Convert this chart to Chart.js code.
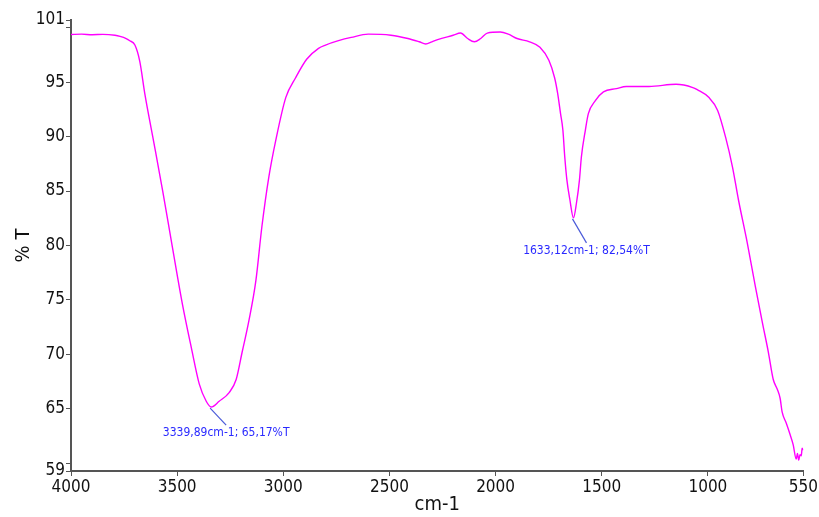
<!DOCTYPE html>
<html>
<head>
<meta charset="utf-8">
<script src="https://cdn.jsdelivr.net/npm/chart.js@4.4.1/dist/chart.umd.min.js"></script>
<style>
    html, body { margin: 0; padding: 0; background: #fff; }
    #wrap { width: 819px; height: 517px; position: relative; }
</style>
</head>
<body>
<div id="wrap"><canvas id="chart-ir"></canvas></div>
<script>
(function () {
    'use strict';

    // spectrum (cm-1, %T)
    var wavenumbers = [
        4000, 3950, 3900, 3850, 3793, 3769, 3740, 3723, 3699, 3676, 3652, 3615, 3568, 3522,
        3475, 3433, 3396, 3363, 3339.89, 3302, 3255, 3222, 3194, 3161, 3129, 3101, 3068, 3035,
        2988, 2942, 2890, 2834, 2801, 2740, 2680, 2600, 2493, 2413, 2360, 2329, 2300, 2273,
        2200, 2165, 2132, 2100, 2070, 2039, 1978, 1940, 1899, 1840, 1791, 1749, 1722,
        1708, 1694, 1683, 1674, 1664, 1650, 1633.12, 1619, 1605, 1596, 1577, 1563, 1530, 1492, 1431, 1384,
        1277, 1150, 1071, 1050, 996, 954, 916, 884, 856, 814, 776, 743, 715, 692, 673, 660,
        650, 631, 612, 598, 584, 578, 572, 566, 560, 556, 552
    ];
    var transmittance = [
        99.37, 99.4, 99.35, 99.38, 99.3, 99.2, 99.0, 98.8, 98.4, 96.9, 93.9, 90.0, 85.0, 79.8,
        74.6, 70.6, 67.3, 65.7, 65.17, 65.7, 66.5, 67.7, 70.2, 73.2, 76.8, 81.7, 86.3, 89.7,
        93.6, 95.4, 97.1, 98.1, 98.4, 98.8, 99.1, 99.4, 99.3, 99.0, 98.7, 98.5, 98.7, 98.9,
        99.3, 99.5, 99.0, 98.7, 99.0, 99.5, 99.6, 99.4, 99.0, 98.7, 98.2, 97.0, 95.4,
        94.0, 92.1, 90.6, 88.1, 86.0, 84.2, 82.54, 83.9, 86.0, 88.1, 90.6, 92.1, 93.3, 94.1, 94.4, 94.6,
        94.6, 94.8, 94.5, 94.3, 93.6, 92.4, 89.9, 87.2, 84.2, 80.2, 76.2, 72.9, 70.2, 67.7, 66.8, 66.0,
        64.7, 63.7, 62.6, 61.7, 60.4, 60.9, 60.3, 60.8, 60.7, 61.4, 61.2
    ];

    // marked peaks
    var peakWavenumbers = [3339.89, 1633.12];
    var peakTransmittance = [65.17, 82.54];
    var peakOffsets = [[15, 18], [13, 25]];

    // axis ticks
    var xTickValues = [4000, 3500, 3000, 2500, 2000, 1500, 1000, 550];
    var yTickValues = [59.3, 60, 65, 70, 75, 80, 85, 90, 95, 100, 100.7];
    var yTickLabels = ['59', '', '65', '70', '75', '80', '85', '90', '95', '', '101'];

    var magenta = '#ff00ff';
    var axisGray = '#555555';
    var font = "'DejaVu Sans Condensed', 'Liberation Sans Narrow', 'Liberation Sans', Arial, sans-serif";

    var points = wavenumbers.map(function (w, i) {
        return { x: w, y: transmittance[i] };
    });

    function fmt(v) {
        return v.toFixed(2).replace('.', ',');
    }

    var peakLabels = {
        id: 'peakLabels',
        afterDatasetsDraw: function (chart) {
            var ctx = chart.ctx;
            var xs = chart.scales.x, ys = chart.scales.y;
            ctx.save();
            for (var i = 0; i < peakWavenumbers.length; i++) {
                var px = xs.getPixelForValue(peakWavenumbers[i]);
                var py = ys.getPixelForValue(peakTransmittance[i]);
                var ex = px + peakOffsets[i][0], ey = py + peakOffsets[i][1];
                ctx.strokeStyle = '#4a5ad8';
                ctx.lineWidth = 1.2;
                ctx.beginPath();
                ctx.moveTo(px - 1, py + 1);
                ctx.lineTo(ex, ey);
                ctx.stroke();
                ctx.fillStyle = '#2a2aff';
                ctx.font = '12px ' + font;
                ctx.textAlign = 'center';
                ctx.textBaseline = 'top';
                ctx.fillText(fmt(peakWavenumbers[i]) + 'cm-1; ' + fmt(peakTransmittance[i]) + '%T', ex, ey + 2);
            }
            ctx.restore();
        }
    };

    new Chart(document.getElementById('chart-ir'), {
        type: 'line',
        data: {
            datasets: [
                {
                    label: '%T',
                    data: points,
                    borderColor: magenta,
                    borderWidth: 1.4,
                    pointRadius: 0,
                    cubicInterpolationMode: 'monotone',
                    fill: false
                }
            ]
        },
        options: {
            responsive: true,
            maintainAspectRatio: false,
            animation: false,
            layout: { padding: { left: 0, right: 12, top: 20, bottom: 0 } },
            plugins: { legend: { display: false }, tooltip: { enabled: false } },
            scales: {
                x: {
                    type: 'linear',
                    min: 550,
                    max: 4000,
                    reverse: true,
                    afterBuildTicks: function (scale) {
                        scale.ticks = xTickValues.map(function (v) { return { value: v }; });
                    },
                    afterFit: function (scale) { scale.height = 46; },
                    grid: { drawOnChartArea: false, drawTicks: true, tickLength: 5, color: axisGray },
                    border: { color: axisGray, width: 2 },
                    ticks: {
                        color: '#111',
                        padding: 1,
                        maxRotation: 0,
                        autoSkip: false,
                        font: { family: font, size: 17 },
                        callback: function (value) { return String(value); }
                    },
                    title: {
                        display: true,
                        text: 'cm-1',
                        color: '#111',
                        padding: { top: 0, bottom: 0 },
                        font: { family: font, size: 20 }
                    }
                },
                y: {
                    type: 'linear',
                    min: 59.3,
                    max: 100.7,
                    afterBuildTicks: function (scale) {
                        scale.ticks = yTickValues.map(function (v) { return { value: v }; });
                    },
                    afterFit: function (scale) { scale.width = 71; },
                    grid: { drawOnChartArea: false, drawTicks: true, tickLength: 5, color: axisGray },
                    border: { color: axisGray, width: 2 },
                    ticks: {
                        color: '#111',
                        padding: 1,
                        autoSkip: false,
                        font: { family: font, size: 17 },
                        callback: function (value) {
                            var i = yTickValues.indexOf(value);
                            return i >= 0 ? yTickLabels[i] : '';
                        }
                    },
                    title: {
                        display: true,
                        text: '% T',
                        color: '#111',
                        padding: { top: 12, bottom: 0 },
                        font: { family: font, size: 20 }
                    }
                }
            }
        },
        plugins: [peakLabels]
    });
})();
</script>
</body>
</html>
